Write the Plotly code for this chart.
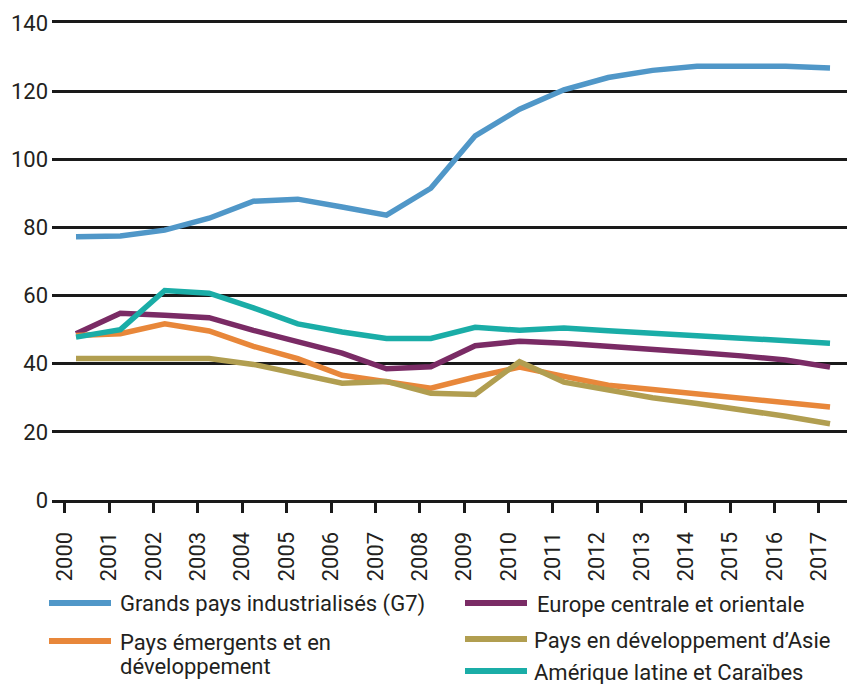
import plotly.graph_objects as go

years = list(range(2000, 2018))

g7 = [77.3, 77.5, 79.2, 82.7, 87.7, 88.3, 86.0, 83.6, 91.5, 106.9, 114.7, 120.4,
      124.0, 126.1, 127.3, 127.5, 127.3, 126.8]
europe = [48.8, 54.8, 54.2, 53.5, 49.8, 46.6, 43.1, 38.5, 39.1, 45.3, 46.6, 46.0,
          45.2, 44.3, 43.3, 42.3, 41.1, 39.0]
emergents = [48.3, 48.8, 51.7, 49.6, 45.1, 41.5, 36.6, 34.6, 32.8, 36.1, 39.0, 36.3,
             33.7, 32.4, 31.2, 30.0, 28.8, 27.3]
asie = [41.5, 41.5, 41.5, 41.5, 39.8, 37.1, 34.3, 34.8, 31.3, 31.0, 40.6, 34.6,
        32.4, 30.0, 28.3, 26.6, 24.6, 22.4]
amerique = [47.8, 50.0, 61.5, 60.7, 56.4, 51.7, 49.3, 47.4, 47.4, 50.7, 49.8, 50.5,
            49.7, 48.8, 48.2, 47.5, 46.8, 46.0]

names = [
    "Grands pays industrialisés (G7)",
    "Europe centrale et orientale",
    "Pays émergents et en développement",
    "Pays en développement d’Asie",
    "Amérique latine et Caraïbes",
]
values = [g7, europe, emergents, asie, amerique]
colors = ["#5097c8", "#7a2b65", "#e8873a", "#b19e50", "#1aada7"]

# legend layout (pixel positions in the 847x684 picture): sample x0, x1, row y, text x, text lines
legend_rows = [
    (49, 111, 603, 118, ["Grands pays industrialisés (G7)"]),
    (465, 527, 603, 535, ["Europe centrale et orientale"]),
    (49, 111, 641, 118, ["Pays émergents et en", "développement"]),
    (465, 527, 639, 532, ["Pays en développement d’Asie"]),
    (465, 527, 671, 532, ["Amérique latine et Caraïbes"]),
]

FONT = "Roboto"
FS = 22
TXT = "#231f20"
LINE = "#1a1a1a"

W, H = 847, 684
ML, MT, MB = 52, 23, 184
PW, PH = W - ML, H - MT - MB

# the year ticks sit a quarter step left of the plotted points, as in the source chart
TICK_SHIFT = 0.25


def px_to_paper(px, py):
    return (px - ML) / PW, (H - MB - py) / PH


fig = go.Figure()
for name, vals, col in zip(names, values, colors):
    fig.add_trace(go.Scatter(
        x=years, y=vals, name=name, mode="lines",
        line=dict(color=col, width=5.5),
        showlegend=False, hoverinfo="skip",
    ))

shapes, annotations = [], []
for (x0, x1, yy, tx, lines), col in zip(legend_rows, colors):
    a0, b0 = px_to_paper(x0, yy)
    a1, _ = px_to_paper(x1, yy)
    shapes.append(dict(type="line", xref="paper", yref="paper", x0=a0, x1=a1, y0=b0, y1=b0,
                       line=dict(color=col, width=6)))
    for k, t in enumerate(lines):
        ax, ay = px_to_paper(tx, yy + 1 + 24 * k)
        annotations.append(dict(xref="paper", yref="paper", x=ax, y=ay, text=t,
                                showarrow=False, xanchor="left", yanchor="middle",
                                font=dict(family=FONT, size=FS, color=TXT)))

fig.update_layout(
    width=W, height=H,
    margin=dict(l=ML, r=0, t=MT, b=MB, autoexpand=False),
    plot_bgcolor="white", paper_bgcolor="white",
    font=dict(family=FONT, size=FS, color=TXT),
    showlegend=False,
    xaxis=dict(
        range=[1999.459, 2017.383],
        tickmode="array", tickvals=[y - TICK_SHIFT for y in years],
        ticktext=[str(y) for y in years],
        ticks="outside", ticklen=10, tickwidth=3, tickcolor=LINE,
        showline=True, mirror=True, linecolor=LINE, linewidth=3,
        tickangle=-90, showgrid=False, zeroline=False,
        ticklabelstandoff=10,
        tickfont=dict(family=FONT, size=FS, color=TXT),
    ),
    yaxis=dict(
        range=[0, 140], tickmode="array", tickvals=[0, 20, 40, 60, 80, 100, 120, 140],
        showgrid=True, gridcolor=LINE, gridwidth=3, zeroline=False,
        ticks="", ticklabelstandoff=3,
        tickfont=dict(family=FONT, size=FS, color=TXT),
    ),
    shapes=shapes,
    annotations=annotations,
)

fig.write_html("out.html", config={"displayModeBar": False},
               post_script="document.body.style.margin='0';")
